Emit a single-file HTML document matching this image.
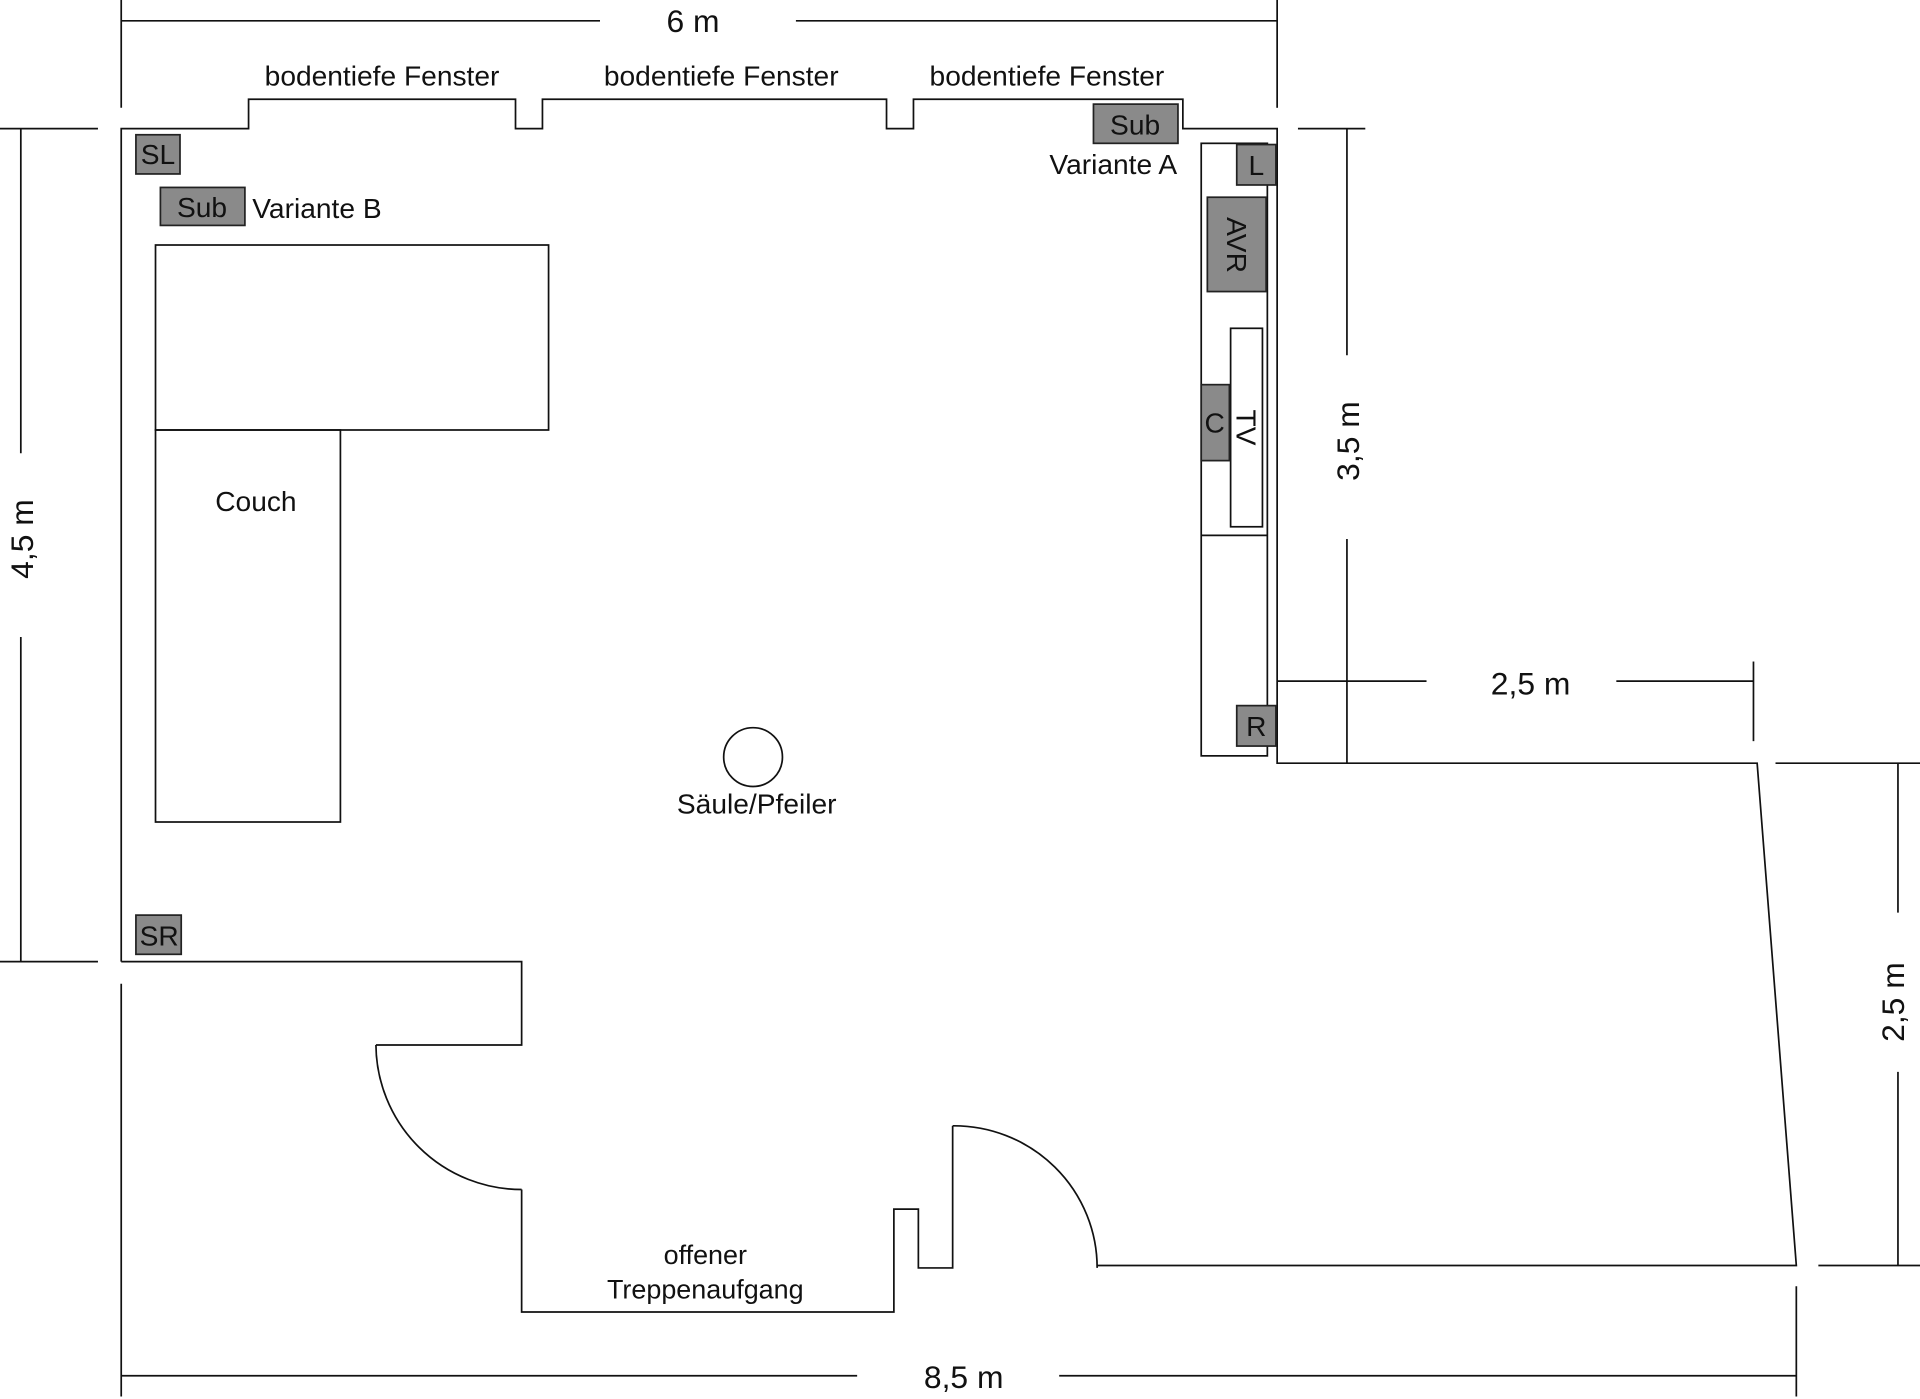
<!DOCTYPE html>
<html><head><meta charset="utf-8"><style>
html,body{margin:0;padding:0;background:#fff;}
svg{display:block;}
text{font-family:"Liberation Sans",sans-serif;fill:#111;}
</style></head><body>
<svg width="1920" height="1399" viewBox="0 0 1568 1142" preserveAspectRatio="none" xmlns="http://www.w3.org/2000/svg">
<g stroke="#111" stroke-width="1.4" fill="none">
<line x1="99" y1="0" x2="99" y2="88"/><line x1="1043" y1="0" x2="1043" y2="88"/>
<line x1="99" y1="17" x2="490" y2="17"/><line x1="650" y1="17" x2="1043" y2="17"/>
<line x1="0" y1="105" x2="80" y2="105"/><line x1="0" y1="785" x2="80" y2="785"/>
<line x1="17" y1="105" x2="17" y2="370"/><line x1="17" y1="520" x2="17" y2="785"/>
<line x1="99" y1="803" x2="99" y2="1140"/><line x1="1467" y1="1050" x2="1467" y2="1140"/>
<line x1="99" y1="1123" x2="700" y2="1123"/><line x1="865" y1="1123" x2="1467" y2="1123"/>
<line x1="1060" y1="105" x2="1115" y2="105"/>
<line x1="1100" y1="105" x2="1100" y2="290"/><line x1="1100" y1="440" x2="1100" y2="623"/>
<line x1="1043" y1="556" x2="1165" y2="556"/><line x1="1320" y1="556" x2="1432" y2="556"/>
<line x1="1432" y1="540" x2="1432" y2="605"/>
<line x1="1450" y1="623" x2="1568" y2="623"/><line x1="1485" y1="1033" x2="1568" y2="1033"/>
<line x1="1550" y1="623" x2="1550" y2="745"/><line x1="1550" y1="875" x2="1550" y2="1033"/>
<polyline points="99,785 99,105 203,105 203,81 421,81 421,105 443,105 443,81 724,81 724,105 746,105 746,81 966,81 966,105 1043,105 1043,623 1435,623 1467,1033 896,1033"/>
<polyline points="99,785 426,785 426,853 307,853"/>
<path d="M307,853 A119,119 0 0 0 426,971"/>
<polyline points="426,971 426,1071 730,1071 730,987 750,987 750,1035 778,1035 778,919"/>
<path d="M778,919 A117,116 0 0 1 896,1035"/>
<rect x="127" y="200" width="321" height="151"/>
<rect x="127" y="351" width="151" height="320"/>
<rect x="981" y="117" width="54" height="500"/>
<line x1="981" y1="437" x2="1035" y2="437"/>
<rect x="1005" y="268" width="26" height="162"/>
<circle cx="615" cy="618" r="24"/>
</g>
<g fill="#8a8a8a" stroke="#222" stroke-width="1.4">
<rect x="981" y="314" width="23" height="62"/>
<rect x="986" y="161" width="48" height="77"/>
<rect x="1010" y="118" width="32" height="33"/>
<rect x="1010" y="576" width="32" height="33"/>
<rect x="111" y="110" width="36" height="32"/>
<rect x="131" y="153" width="69" height="31"/>
<rect x="111" y="747" width="37" height="32"/>
<rect x="893" y="85" width="69" height="32"/>
</g>
<g font-size="26" text-anchor="middle">
<text x="566" y="26">6 m</text>
<text x="787" y="1133">8,5 m</text>
<text x="1250" y="567">2,5 m</text>
<text transform="translate(27,440) rotate(-90)">4,5 m</text>
<text transform="translate(1110,360) rotate(-90)">3,5 m</text>
<text transform="translate(1555,818) rotate(-90)">2,5 m</text>
</g>
<g font-size="23" text-anchor="middle">
<text x="312" y="70">bodentiefe Fenster</text>
<text x="589" y="70">bodentiefe Fenster</text>
<text x="855" y="70">bodentiefe Fenster</text>
<text x="209" y="417">Couch</text>
<text x="618" y="664">Säule/Pfeiler</text>
<text x="576" y="1032" font-size="22">offener</text>
<text x="576" y="1060" font-size="22">Treppenaufgang</text>
<text x="129" y="134">SL</text>
<text x="130" y="772">SR</text>
<text x="165" y="177">Sub</text>
<text x="927" y="110">Sub</text>
<text x="1026" y="143">L</text>
<text x="1026" y="601">R</text>
<text x="992" y="353">C</text>
<text transform="translate(1002,200) rotate(90)">AVR</text>
<text transform="translate(1010,349) rotate(90)">TV</text>
</g>
<g font-size="23">
<text x="206" y="178">Variante B</text>
<text x="857" y="142">Variante A</text>
</g>
</svg>
</body></html>
